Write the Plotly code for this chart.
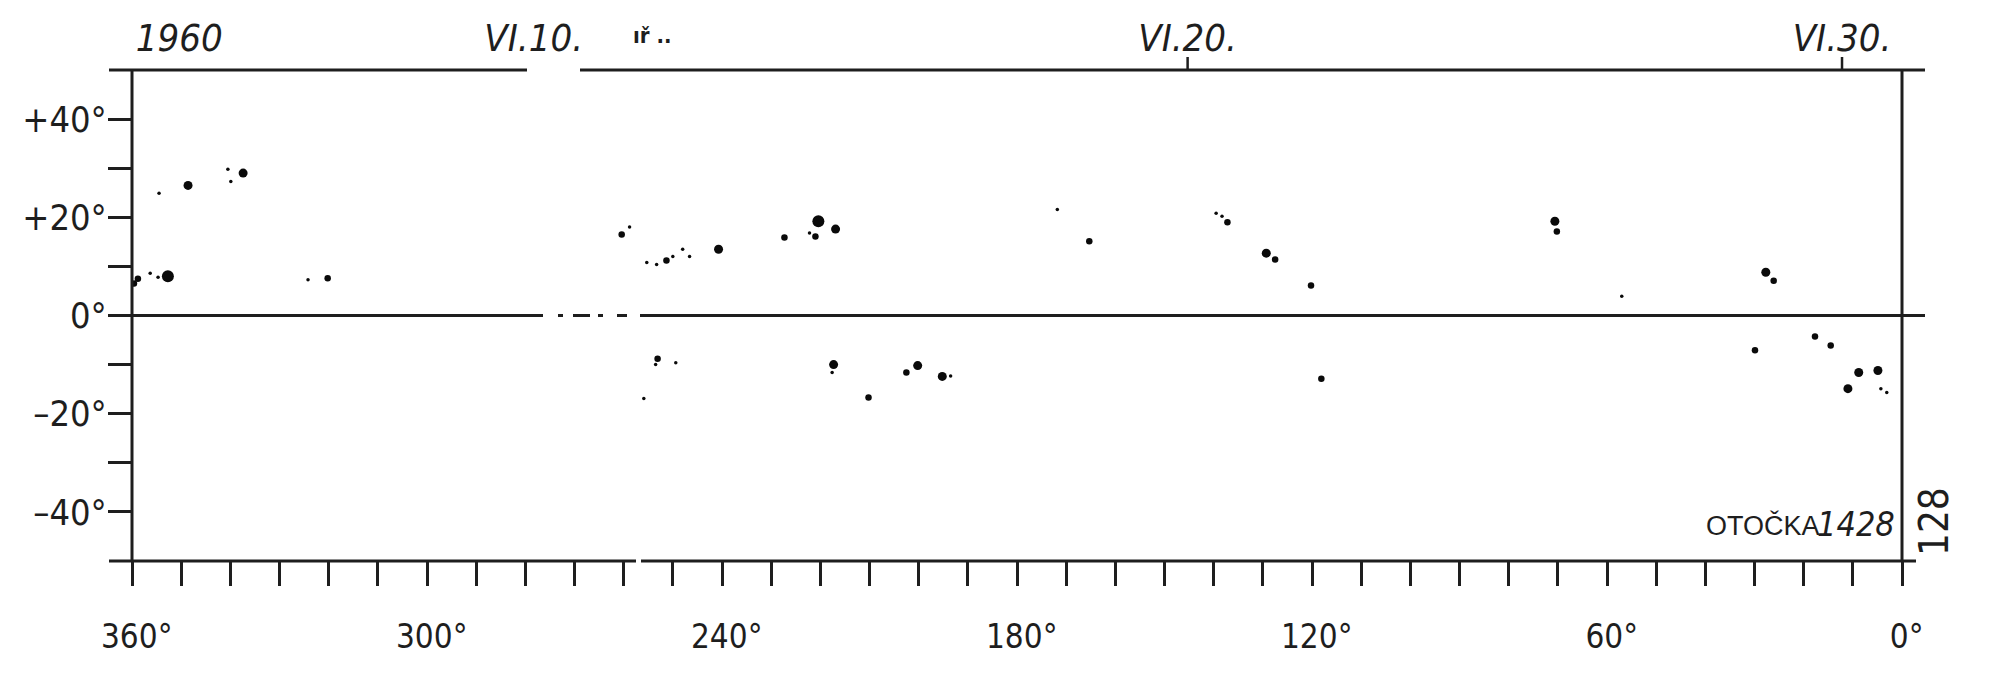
import plotly.graph_objects as go

# ---- data (Carrington longitude in deg, latitude in deg, relative spot size class) ----
spot_lon = [359.6, 358.8, 356.3, 354.7, 352.7, 354.5, 348.6, 340.5, 339.9, 337.4, 324.2, 320.2,
            260.4, 258.8, 255.3, 253.3, 251.3, 250.0, 248.0, 246.6, 240.7, 227.3, 220.4, 221.0,
            222.2, 216.9, 171.8, 165.3, 139.5, 138.3, 137.2, 129.3, 127.5, 120.2, 70.6, 70.2,
            57.0, 27.7, 26.1,
            253.1, 253.5, 249.4, 255.9, 217.3, 217.6, 210.2, 202.5, 200.2, 195.2, 193.5, 118.1,
            29.9, 17.7, 14.5, 8.8, 4.9, 11.0, 4.3, 3.1]
spot_lat = [6.5, 7.5, 8.6, 7.8, 8.0, 24.9, 26.5, 29.8, 27.3, 29.0, 7.3, 7.6,
            16.5, 18.0, 10.8, 10.4, 11.2, 12.0, 13.5, 12.0, 13.5, 15.9, 19.2, 16.1,
            16.8, 17.6, 21.6, 15.1, 20.8, 20.2, 19.0, 12.7, 11.4, 6.1, 19.2, 17.1,
            3.9, 8.8, 7.1,
            -8.8, -10.0, -9.6, -16.9, -10.0, -11.6, -16.7, -11.6, -10.2, -12.4, -12.3, -12.9,
            -7.1, -4.3, -6.1, -11.6, -11.2, -14.9, -14.9, -15.7]
spot_class = [2, 2, 1, 1, 4, 1, 3, 1, 1, 3, 1, 2,
              2, 1, 1, 1, 2, 1, 1, 1, 3, 2, 4, 2,
              1, 3, 1, 2, 1, 1, 2, 3, 2, 2, 3, 2,
              1, 3, 2,
              2, 1, 1, 1, 3, 1, 2, 2, 3, 3, 1, 2,
              2, 2, 2, 3, 3, 3, 1, 1]

lon_ticks = list(range(0, 361, 10))
lon_labels = ["360°", "300°", "240°", "180°", "120°", "60°", "0°"]
lon_label_vals = [360, 300, 240, 180, 120, 60, 0]
lat_ticks = [-40, -30, -20, -10, 0, 10, 20, 30, 40]
lat_labels = {40: "+40°", 20: "+20°", 0: "0°", -20: "–20°", -40: "–40°"}

date_lon = [350.4, 278.3, 145.3, 12.2]
date_labels = ["1960", "VI.10.", "VI.20.", "VI.30."]
date_has_tick = [False, False, True, True]

rotation_no = "1428"
chart_no = "128"

# ---- styling ----
INK = "#1e1e1e"
NARROW = "DejaVu Sans Condensed, Liberation Sans Narrow, sans-serif"
W, H = 2000, 681
OFF = 8                       # page body margin of the browser
PL, PR, PT, PB = 132, 1902, 70, 561   # plot area in screen pixels
ML, MT = PL - OFF, PT - OFF
MR = W - (PR - OFF)
MB = H - (PB - OFF)
PW, PH = PR - PL, PB - PT

def px_x(p):  # screen pixel -> paper x
    return (p - PL) / PW

def px_y(p):  # screen pixel -> paper y
    return (PB - p) / PH

size_map = {1: 3.5, 2: 6.5, 3: 9, 4: 12}

fig = go.Figure()
fig.add_trace(go.Scatter(
    x=spot_lon, y=spot_lat, mode="markers",
    marker=dict(size=[size_map[c] for c in spot_class], color="#0a0a0a", opacity=1, line=dict(width=0)),
    hoverinfo="skip", showlegend=False))
# invisible trace for the top (date) axis
fig.add_trace(go.Scatter(x=[date_lon[0]], y=[0], xaxis="x2", mode="markers",
                         marker=dict(opacity=0), hoverinfo="skip", showlegend=False))

tick_text = ["\u00a0" + lon_labels[lon_label_vals.index(v)] if v in lon_label_vals else "" for v in lon_ticks]
lat_text = [lat_labels.get(v, "") for v in lat_ticks]

fig.update_layout(
    width=W, height=H, margin=dict(l=ML, r=MR, t=MT, b=MB, autoexpand=False),
    paper_bgcolor="white", plot_bgcolor="white",
    xaxis=dict(range=[360, 0], tickmode="array", tickvals=lon_ticks, ticktext=tick_text,
               ticks="outside", ticklen=24, tickwidth=3, tickcolor=INK,
               showgrid=False, zeroline=False, showline=False, automargin=False,
               tickfont=dict(family=NARROW, size=33, color=INK), ticklabelstandoff=22),
    xaxis2=dict(range=[360, 0], overlaying="x", side="top", anchor="y",
                tickmode="array", tickvals=date_lon, ticktext=date_labels, ticks="",
                showgrid=False, zeroline=False, showline=False, automargin=False,
                tickfont=dict(family=NARROW, size=38, color=INK, style="italic"),
                ticklabelstandoff=10),
    yaxis=dict(range=[-50, 50], tickmode="array", tickvals=lat_ticks, ticktext=lat_text,
               ticks="outside", ticklen=23, tickwidth=3, tickcolor=INK,
               showgrid=False, zeroline=False, showline=False, automargin=False,
               tickfont=dict(family=NARROW, size=36, color=INK), ticklabelstandoff=-6),
)

line = dict(color=INK, width=3)
shapes = []
# frame verticals
shapes.append(dict(type="line", xref="paper", yref="paper", x0=0, x1=0, y0=0, y1=1, line=line))
shapes.append(dict(type="line", xref="paper", yref="paper", x0=1, x1=1, y0=0, y1=1, line=line))
# top line with a gap under VI.10.
shapes.append(dict(type="line", xref="paper", yref="paper", x0=px_x(109), x1=px_x(527), y0=1, y1=1, line=line))
shapes.append(dict(type="line", xref="paper", yref="paper", x0=px_x(580), x1=px_x(1925), y0=1, y1=1, line=line))
# bottom line with a small gap
shapes.append(dict(type="line", xref="paper", yref="paper", x0=px_x(109), x1=px_x(636), y0=0, y1=0, line=line))
shapes.append(dict(type="line", xref="paper", yref="paper", x0=px_x(641), x1=px_x(1916), y0=0, y1=0, line=line))
# equator with broken section
for a, b in [(109, 543), (558, 563), (573, 590), (598, 603), (617, 627), (640, 1925)]:
    shapes.append(dict(type="line", xref="paper", yref="y", x0=px_x(a), x1=px_x(b), y0=0, y1=0, line=line))
# date ticks on top line
for v, t in zip(date_lon, date_has_tick):
    if t:
        shapes.append(dict(type="line", xref="x", yref="paper", x0=v, x1=v, y0=1, y1=1 + 13 / PH,
                           line=dict(color=INK, width=2.5)))
fig.update_layout(shapes=shapes)

fig.add_annotation(xref="paper", yref="paper", x=px_x(1822), y=px_y(543), xanchor="right", yanchor="bottom",
                   text="OTOČKA", showarrow=False,
                   font=dict(family="Liberation Sans, Arial, sans-serif", size=27, color=INK))
fig.add_annotation(xref="paper", yref="paper", x=px_x(1897), y=px_y(546), xanchor="right", yanchor="bottom",
                   text=rotation_no, showarrow=False,
                   font=dict(family=NARROW, size=34, color=INK, style="italic"))
fig.add_annotation(xref="paper", yref="paper", x=px_x(1934), y=px_y(522), xanchor="center", yanchor="middle",
                   text=chart_no, textangle=-90, showarrow=False, font=dict(family=NARROW, size=40, color=INK))
fig.add_annotation(xref="paper", yref="paper", x=px_x(652), y=px_y(50), xanchor="center", yanchor="bottom",
                   text="<b>ıř ..</b>", showarrow=False, font=dict(family=NARROW, size=22, color=INK))

fig.write_html("out.html")
